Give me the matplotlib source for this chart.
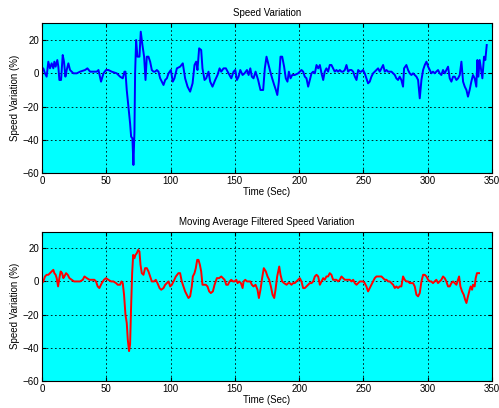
import numpy as np
import matplotlib
matplotlib.use('Agg')
import matplotlib.pyplot as plt

plt.rcParams['font.family'] = ['Liberation Sans', 'DejaVu Sans']
plt.rcParams['font.size'] = 7.

# raw speed variation
t_raw = [0, 1.0, 2.3, 3.6, 4.9, 6.2, 7.5, 8.8, 9.6, 10.6, 11.9, 12.7, 13.5, 14.8,
         16.1, 17.1, 18.2, 19.2, 20.5, 21.8, 24.4, 27.0, 29.6, 33.5, 35.3, 37.4,
         40.0, 42.6, 43.9, 45.9, 47.8, 49.8, 51.6, 54.2, 58.1, 60.7, 62.8, 64.1,
         64.9, 65.9, 67.2, 68.5, 69.3, 70.3, 71.1, 71.9, 72.4, 73.2, 74.2, 75.8,
         76.8, 78.1, 79.4, 80.5, 81.5, 82.8, 84.1, 85.4, 86.7, 88.0, 89.3, 90.6,
         91.9, 94.5, 95.8, 97.1, 98.4, 100.2, 101.7, 103.0, 104.9, 107.4, 109.5,
         111.3, 113.2, 115.2, 117.1, 118.6, 119.9, 120.9, 122.2, 123.8, 124.8,
         126.4, 127.7, 129.5, 130.8, 132.6, 134.7, 136.5, 138.1, 139.4, 141.2,
         143.0, 145.1, 147.2, 149.0, 150.3, 151.6, 152.9, 154.2, 156.0, 157.5,
         159.4, 160.7, 162.0, 163.2, 164.5, 166.1, 168.1, 169.9, 172.0, 173.3,
         174.6, 175.9, 177.2, 179.0, 180.6, 181.9, 183.0, 184.2, 185.5, 186.8,
         188.3, 189.6, 190.9, 192.0, 193.3, 194.6, 196.6, 199.2, 200.5, 201.8,
         203.1, 204.4, 205.7, 207.0, 208.3, 209.6, 210.9, 212.2, 213.5, 214.8,
         216.1, 217.4, 218.7, 219.9, 221.2, 222.5, 223.8, 225.1, 226.4, 227.7,
         229.0, 230.3, 231.6, 232.9, 234.2, 235.5, 236.8, 238.1, 239.4, 240.7,
         242.0, 243.3, 244.6, 245.9, 247.2, 248.4, 249.7, 251.0, 252.3, 253.6,
         254.9, 256.2, 257.5, 258.8, 260.1, 261.4, 262.7, 264.0, 265.3, 266.6,
         267.9, 269.2, 270.5, 271.8, 273.1, 274.4, 275.6, 276.9, 278.2, 279.5,
         280.8, 281.6, 283.4, 284.7, 286.0, 287.3, 288.6, 289.9, 291.2, 292.5,
         293.8, 295.1, 296.4, 297.7, 299.0, 300.3, 301.6, 302.8, 304.1, 305.4,
         306.7, 308.0, 309.3, 310.6, 311.9, 313.2, 314.5, 315.8, 317.1, 318.4,
         319.7, 321.0, 322.3, 323.6, 324.9, 326.2, 327.5, 328.8, 330.1, 331.3,
         332.6, 333.9, 335.2, 336.5, 337.8, 338.6, 339.4, 340.4, 341.7, 342.5,
         343.8, 344.8, 345.9]
v_raw = [1, 3, 0, -2, 7, 3, 6, 3, 7, 4, 8, 4, -4, -4,
         11, 7, -2, 2, 6, 2, 0, 0, 1, 2, 3, 1,
         1, 1, 2, -5, 0, 2, 2, 1, 0, -2, -3, 1,
         1, -10, -20, -30, -38, -39, -55, -35, 0, 20, 10, 10,
         25, 17, 10, -4, 10, 10, 7, 2, 1, 1, 2, 1,
         -3, -7, -4, -3, 0, 2, -5, -3, 3, 4, 6,
         -3, -8, -11, -6, 5, 7, 2, 15, 14, 3,
         -4, -3, 1, -5, -8, -4, -1, 3, 1, 3,
         3, 0, -3, 1, 2, -4, -2, 2, -1, 0,
         2, -1, 3, -2, -3, 1, -4, -10, -10, 3,
         10, 6, 2, -3, -7, -10, -13, -5, 10, 10,
         4, -3, -5, 1, -3, -1, -1, 0, 1, 2,
         1, -2, -3, -8, -4, 0, 1, 0, 5, 3,
         5, 0, -4, 1, 3, 1, 5, 5, 3, 1,
         2, 1, 2, 1, 1, 2, 5, 1, 2, 2,
         1, -2, -4, 2, 1, 1, 2, 0, -3, -6,
         -5, -2, 0, 1, 2, 3, 1, 3, 5, 1,
         2, 1, 1, 1, 0, -1, -3, -4, -2, -4,
         -8, 3, 5, 2, 0, -1, 0, -1, -2, -4,
         -15, -4, 2, 5, 7, 4, 2, 0, 1, 0,
         1, 2, 0, -1, 2, 0, 2, 4, -3, -5,
         -2, -2, -4, -3, -1, 7, -5, -8, -10, -14,
         -10, -5, -1, -3, -8, 8, -2, 8, 1, -3,
         10, 8, 17]

# moving average filtered speed variation
t_ma = [0, 1.0, 2.3, 3.6, 4.9, 6.2, 7.5, 8.8, 9.6, 10.6, 11.4, 12.5, 13.5, 14.5,
        15.6, 16.6, 17.4, 18.7, 20.0, 21.3, 23.1, 24.9, 27.0, 29.6, 31.7, 33.0,
        34.8, 36.9, 38.7, 40.7, 42.0, 43.3, 44.6, 46.5, 48.2, 49.8, 51.6, 53.7,
        55.5, 57.6, 58.9, 60.7, 61.8, 62.8, 63.8, 64.9, 65.9, 66.7, 67.7, 68.5,
        69.3, 70.1, 70.9, 71.9, 72.7, 73.7, 74.8, 75.8, 76.6, 77.6, 78.9, 80.2,
        81.5, 82.8, 84.1, 85.4, 87.2, 88.5, 89.8, 91.4, 92.7, 94.5, 95.8, 97.1,
        98.4, 99.7, 101.0, 102.3, 104.1, 106.1, 107.4, 108.7, 110.0, 111.3,
        112.6, 113.9, 115.2, 116.5, 117.3, 118.6, 119.6, 120.7, 121.7, 122.8,
        123.8, 124.8, 126.1, 127.4, 128.7, 130.0, 131.3, 132.9, 134.2, 136.0,
        137.8, 139.4, 140.7, 142.0, 143.3, 144.6, 145.9, 147.2, 148.5, 149.8,
        151.1, 152.1, 153.4, 154.7, 156.0, 156.8, 158.1, 159.4, 160.7, 162.0,
        163.2, 164.5, 166.1, 167.6, 168.7, 169.9, 171.2, 172.5, 174.1, 175.4,
        176.7, 178.0, 179.3, 180.6, 181.6, 182.9, 184.5, 185.5, 186.8, 188.3,
        190.2, 191.5, 192.7, 194.0, 195.3, 196.6, 197.9, 199.2, 200.5, 201.8,
        203.1, 204.4, 205.7, 207.0, 208.3, 209.6, 210.9, 212.2, 213.5, 214.8,
        216.1, 217.4, 218.7, 219.9, 221.2, 222.5, 223.8, 225.1, 226.4, 227.7,
        229.0, 230.3, 231.6, 232.9, 234.2, 235.5, 236.8, 238.1, 239.4, 240.7,
        242.0, 243.3, 244.6, 245.9, 247.2, 248.4, 249.7, 251.0, 252.3, 253.6,
        254.9, 256.2, 257.5, 258.8, 260.1, 261.4, 262.7, 264.0, 265.3, 266.6,
        267.9, 269.2, 270.5, 271.8, 273.1, 274.4, 275.6, 276.9, 278.2, 279.5,
        280.8, 282.1, 283.4, 284.7, 286.0, 287.3, 288.6, 289.9, 291.2, 292.5,
        293.8, 295.1, 296.4, 297.7, 299.0, 300.3, 301.6, 302.8, 304.1, 305.4,
        306.7, 308.0, 309.3, 310.6, 311.9, 313.2, 314.5, 315.8, 317.1, 318.4,
        319.7, 321.0, 322.3, 323.6, 324.4, 325.4, 326.7, 328.0, 329.1, 330.1,
        331.3, 332.6, 333.4, 334.5, 335.2, 336.5, 337.3, 338.3, 339.9]
v_ma = [-1, 0, 3, 4, 4, 5, 6, 7, 5, 4, 2, -3, 2, 6,
        5, 2, 3, 5, 4, 2, 1, 0, 0, 0, 1, 3,
        2, 1, 1, 1, 0, -3, -4, -1, 1, 2, 1, 0,
        0, -1, -2, -2, 0, -1, -8, -20, -25, -35, -42, -38,
        -15, 5, 16, 14, 16, 17, 19, 18, 10, 5, 4, 8,
        8, 6, 3, 0, 0, 1, -1, -4, -5, -4, -2, -1,
        0, -3, -2, 0, 3, 5, 5, 0, -3, -6,
        -8, -10, -9, -3, 3, 5, 8, 13, 13, 10,
        6, -2, -2, -2, -3, -6, -7, -6, -2, 2,
        2, 3, 2, 1, -2, -2, 0, 1, 0, 0,
        1, -1, 0, -1, -4, 0, 1, 0, 0, 0,
        -2, -3, -2, -5, -10, -5, 2, 8, 6, 3,
        1, -3, -8, -10, -5, 3, 9, 4, 0, -1,
        -2, -1, -1, -2, -1, -1, 0, 1, 2, 0,
        -4, -4, -3, -2, -1, -1, 0, 3, 4, 3,
        -2, 0, 2, 1, 3, 3, 5, 4, 1, 1,
        1, 0, 1, 3, 2, 1, 1, 1, 1, 0,
        1, -1, -2, -1, 0, 0, 0, -1, -3, -6,
        -4, -2, 0, 2, 3, 3, 3, 3, 2, 1,
        1, 0, 0, -1, -2, -4, -3, -4, -3, -3,
        3, 1, 0, 0, -1, -1, -1, -3, -8, -9,
        -7, 0, 4, 4, 3, 1, 0, 0, -1, 0,
        1, -1, 0, 1, 3, 2, 0, -3, -3, -1,
        0, -1, -2, 1, 3, -3, -6, -8, -11, -13,
        -9, -5, -3, -5, -2, -3, 2, 5, 5]

xticks = [0, 50, 100, 150, 200, 250, 300, 350]
yticks = [-60, -40, -20, 0, 20]

fig = plt.figure(figsize=(4.99, 4.08), dpi=100)
ax1 = fig.add_axes([0.0842, 0.5752, 0.9018, 0.3676])
ax2 = fig.add_axes([0.0842, 0.0662, 0.9018, 0.366])

panels = [(ax1, t_raw, v_raw, '#0000ff', 'Speed Variation'),
          (ax2, t_ma, v_ma, '#ff0000', 'Moving Average Filtered Speed Variation')]

for ax, t, v, c, title in panels:
    ax.set_facecolor('#00ffff')
    ax.plot(t, v, color=c, lw=1.4)
    ax.set_xlim(0, 350)
    ax.set_ylim(-60, 30)
    ax.set_xticks(xticks)
    ax.set_yticks(yticks)
    ax.grid(True, color='k', ls=(0, (2, 3)), lw=0.6)
    ax.tick_params(direction='in', length=3, pad=2, labelsize=7,
                   top=True, right=True)
    for s in ax.spines.values():
        s.set_linewidth(0.8)
    ax.set_title(title, fontsize=7, pad=5)
    ax.set_xlabel('Time (Sec)', fontsize=7, labelpad=1)
    ax.set_ylabel('Speed Variation (%)', fontsize=7, labelpad=2)

fig.savefig('out.png', dpi=100)
